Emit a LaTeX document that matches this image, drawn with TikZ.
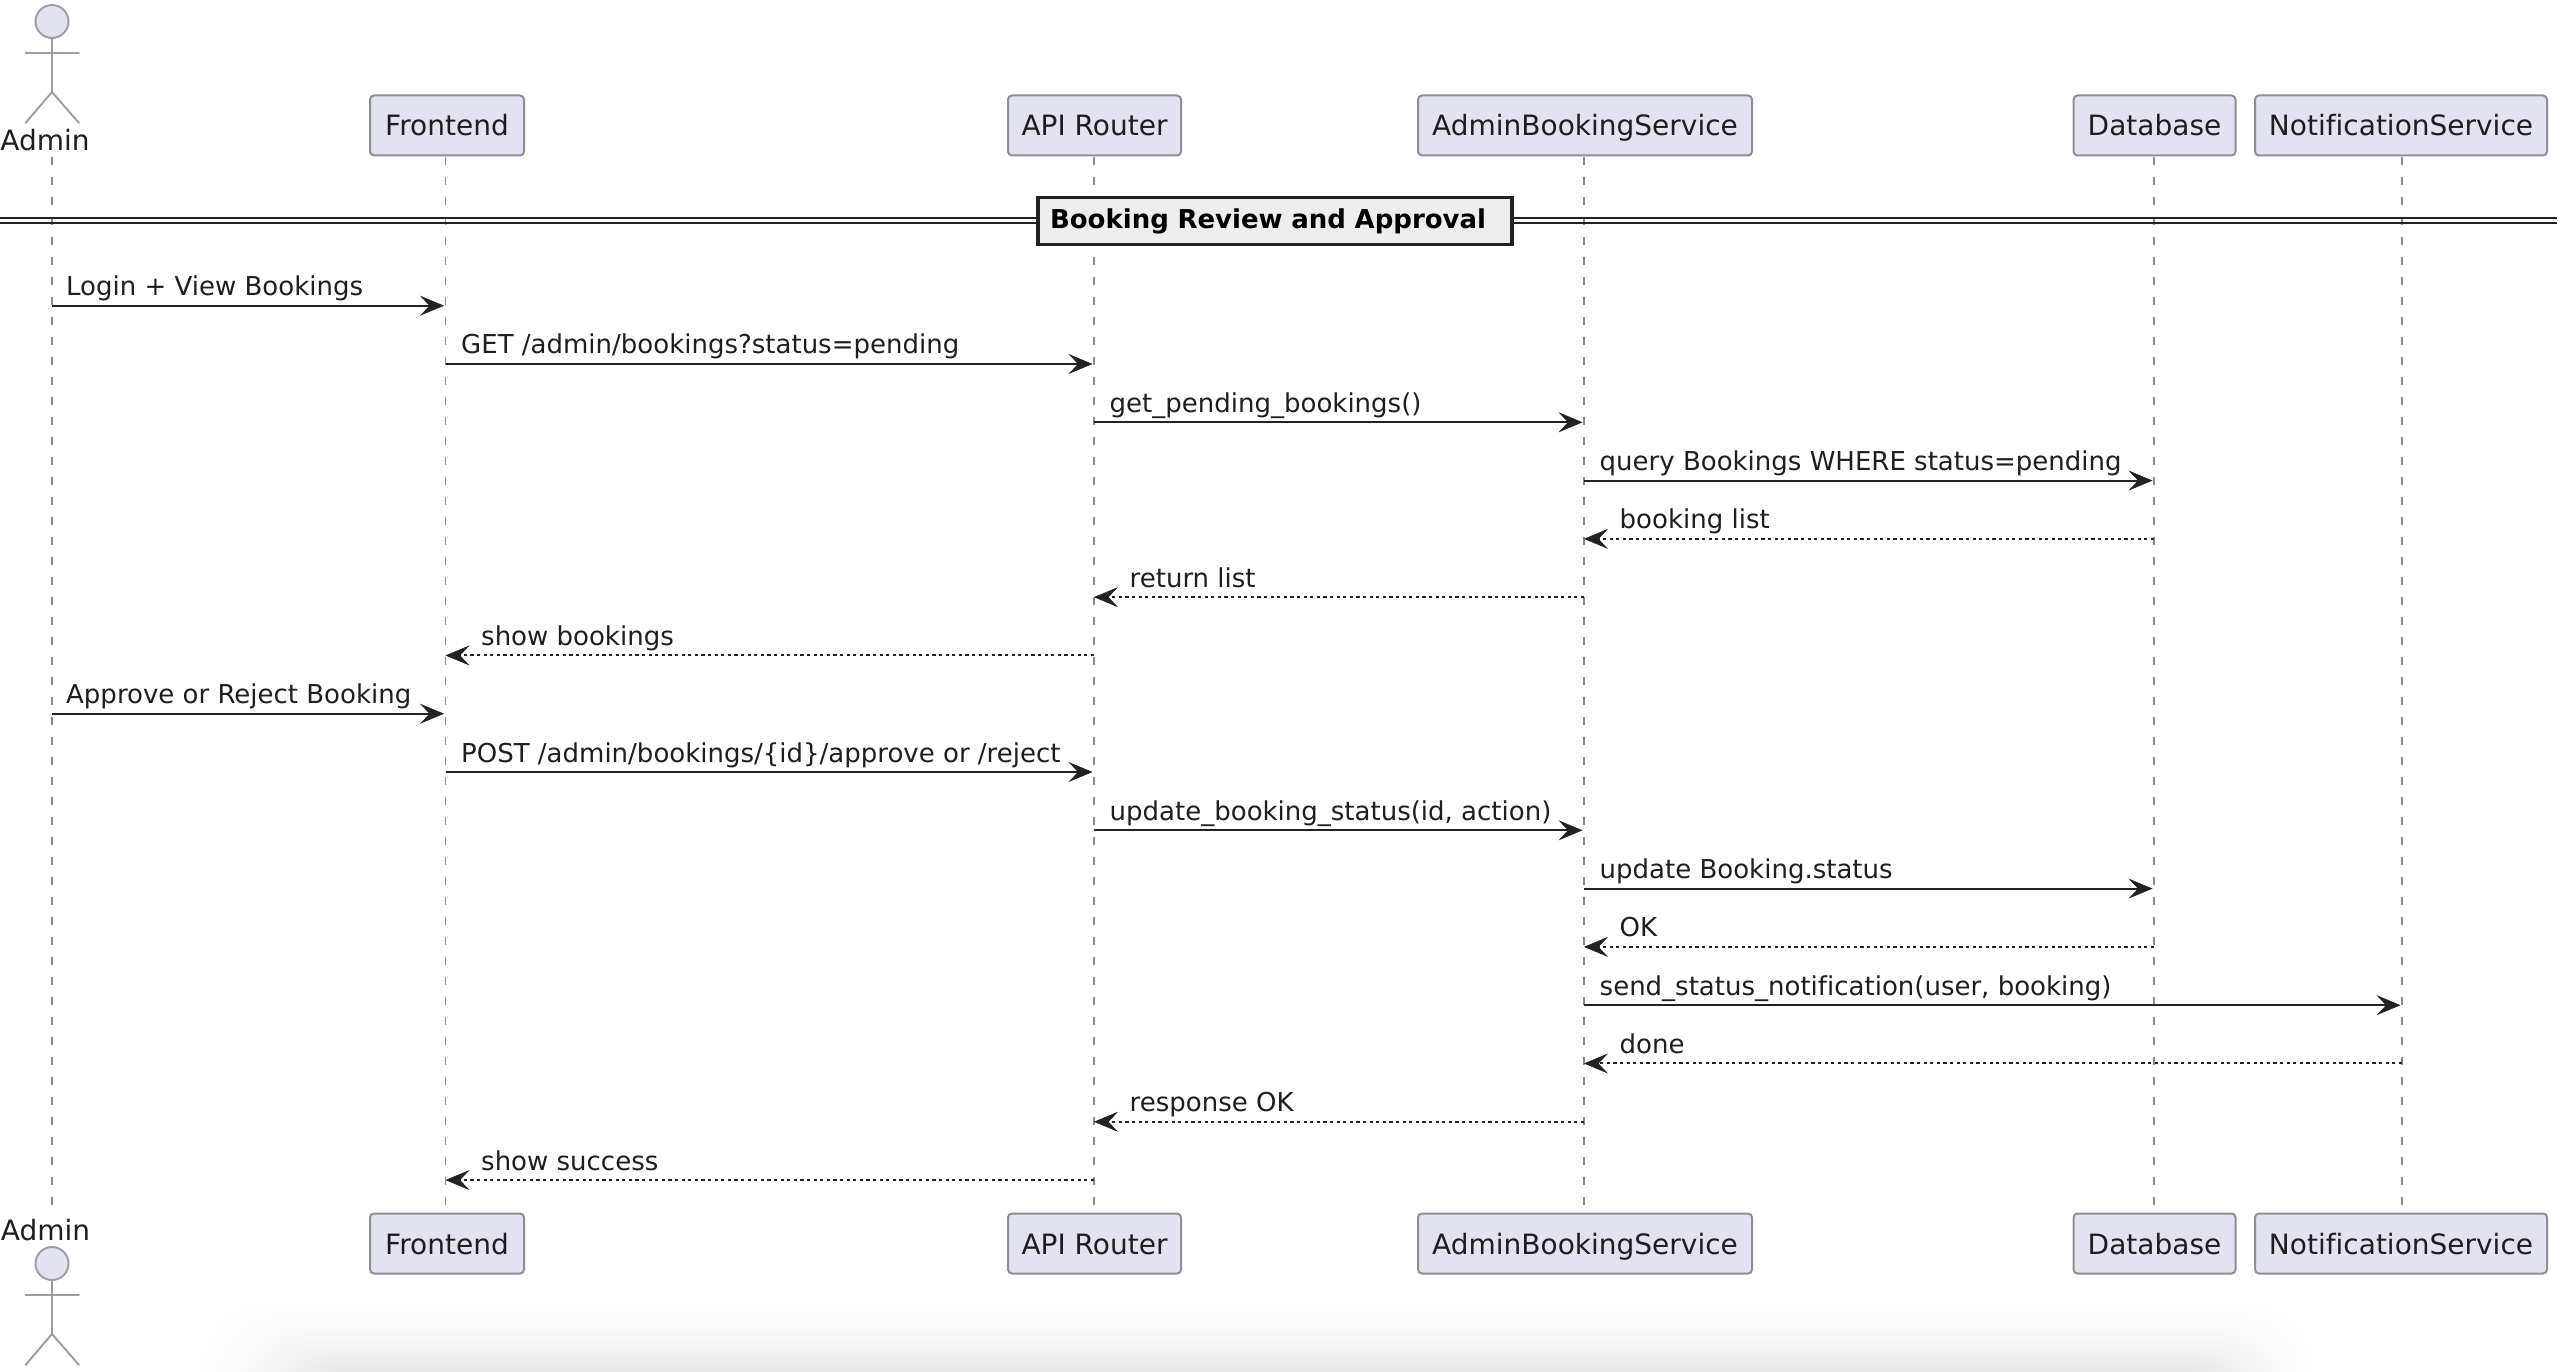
\documentclass[tikz,border=0pt]{standalone}
\usepackage{fontspec}
\setmainfont[Ligatures=NoCommon]{DejaVu Sans}
\usetikzlibrary{arrows.meta}
\definecolor{partfill}{HTML}{E2E2F0}
\definecolor{partline}{HTML}{8E8E96}
\definecolor{lifecol}{HTML}{8A8A8A}
\definecolor{inkcol}{HTML}{222222}
\definecolor{txtcol}{HTML}{1E1E1E}
\tikzset{
  x=1pt,y=-1pt,
  partbox/.style={draw=partline,fill=partfill,line width=2pt,rounded corners=4pt,inner sep=0pt,
    minimum height=60pt,text height=21pt,text depth=0pt,text=txtcol,font=\fontsize{28}{32}\selectfont},
  lifeline/.style={draw=lifecol,line width=1.7pt,dash pattern=on 8pt off 12pt},
  actorline/.style={draw=partline!88!white,line width=1.9pt,line cap=round,line join=round},
  actorlabel/.style={inner sep=0pt,text=txtcol,font=\fontsize{28}{32}\selectfont},
  msgtext/.style={inner sep=0pt,anchor=base west,text=txtcol,font=\fontsize{26}{30}\selectfont},
  msgsolid/.style={draw=inkcol,line width=2.1pt,-{Stealth[length=24pt,width=20pt,inset=9.5pt,fill=inkcol,line width=0.6pt]}},
  msgdash/.style={draw=inkcol,line width=2pt,dash pattern=on 3.3pt off 3.3pt,-{Stealth[length=24pt,width=20pt,inset=9.5pt,fill=inkcol,line width=0.6pt]}},
  divline/.style={draw=inkcol,line width=2.6pt},
  divbox/.style={draw=inkcol,fill=black!7,line width=3.4pt,inner ysep=0pt,inner xsep=12pt,text width=450pt,align=left,
    minimum height=47pt,text=black,font=\fontsize{26}{30}\selectfont\bfseries}
}
\newcommand{\actorfig}[1]{%
  \draw[actorline,fill=partfill] (52,#1+16.5) ellipse [x radius=16.5,y radius=16.5];
  \draw[actorline] (52,#1+33) -- (52,#1+87) (25.5,#1+48) -- (79,#1+48)
    (25.5,#1+118) -- (52,#1+87) -- (79,#1+118);
}
\newcommand{\rowy}[1]{\pgfmathsetmacro{\ry}{305.7+58.29*(#1-1)}}
\newcommand{\msgright}[5][15.5pt]{%
  \rowy{#4}
  \coordinate (ms#4) at (lt#2 |- 0,\ry);
  \coordinate (me#4) at (lt#3 |- 0,\ry);
  \draw[msgsolid,shorten >=1.5pt] (ms#4) -- (me#4);
  \node[msgtext] (mt#4) at ([xshift=#1,yshift=10pt]ms#4) {#5};
}
\newcommand{\msgleft}[4]{%
  \rowy{#3}
  \coordinate (ms#3) at (lt#1 |- 0,\ry);
  \coordinate (me#3) at (lt#2 |- 0,\ry);
  \draw[msgdash,shorten >=0pt] (ms#3) -- (me#3);
  \node[msgtext] (mt#3) at ([xshift=35.5pt,yshift=10pt]me#3) {#4};
}
\begin{document}
\begin{tikzpicture}
\useasboundingbox (0,0) rectangle (2562,1372);
\fill[white] (0,0) rectangle (2562,1372);
\foreach \k in {1,...,27}{
  \pgfmathsetmacro{\uu}{sqrt(\k/27)}
  \pgfmathsetmacro{\pct}{\k/255*100}
  \pgfmathsetmacro{\xa}{180+125*\uu}
  \pgfmathsetmacro{\xb}{2330-100*\uu}
  \pgfmathsetmacro{\ya}{1290+84*\uu}
  \fill[black!\pct,rounded corners=60pt] (\xa,\ya) rectangle (\xb,1500);
}
\foreach \nm/\xx in {AD/52,FE/445.5,AR/1094,AB/1584,DB/2154,NS/2402}{
  \coordinate (lt\nm) at (\xx,157);
  \coordinate (lb\nm) at (\xx,1209);
  \draw[lifeline] (lt\nm) -- (lb\nm);
}
\node[partbox,minimum width=154pt] (tFE) at (447,125.5) {Frontend};
\node[partbox,minimum width=173pt] (tAR) at (1094.5,125.5) {API Router};
\node[partbox,minimum width=334pt] (tAB) at (1585,125.5) {AdminBookingService};
\node[partbox,minimum width=162pt] (tDB) at (2154.5,125.5) {Database};
\node[partbox,minimum width=292pt] (tNS) at (2401,125.5) {NotificationService};
\node[partbox,minimum width=154pt] (bFE) at (447,1243.5) {Frontend};
\node[partbox,minimum width=173pt] (bAR) at (1094.5,1243.5) {API Router};
\node[partbox,minimum width=334pt] (bAB) at (1585,1243.5) {AdminBookingService};
\node[partbox,minimum width=162pt] (bDB) at (2154.5,1243.5) {Database};
\node[partbox,minimum width=292pt] (bNS) at (2401,1243.5) {NotificationService};
\actorfig{5}
\node[actorlabel,anchor=base] (tAD) at (45,151) {Admin};
\node[actorlabel,anchor=base] (bAD) at (45.5,1240) {Admin};
\actorfig{1247}
\coordinate (divAL) at (0,218);
\coordinate (divAR) at (2557,218);
\coordinate (divBL) at (0,223);
\coordinate (divBR) at (2557,223);
\draw[divline] (divAL) -- (divAR);
\draw[divline] (divBL) -- (divBR);
\node[divbox] (divT) at (1275,221) {Booking Review and Approval};
\msgright[14pt]{AD}{FE}{1}{Login + View Bookings}
\msgright{FE}{AR}{2}{GET /admin/bookings?status=pending}
\msgright{AR}{AB}{3}{get\_pending\_bookings()}
\msgright{AB}{DB}{4}{query Bookings WHERE status=pending}
\msgleft{DB}{AB}{5}{booking list}
\msgleft{AB}{AR}{6}{return list}
\msgleft{AR}{FE}{7}{show bookings}
\msgright[14pt]{AD}{FE}{8}{Approve or Reject Booking}
\msgright{FE}{AR}{9}{POST /admin/bookings/\{id\}/approve or /reject}
\msgright{AR}{AB}{10}{update\_booking\_status(id, action)}
\msgright{AB}{DB}{11}{update Booking.status}
\msgleft{DB}{AB}{12}{OK}
\msgright{AB}{NS}{13}{send\_status\_notification(user, booking)}
\msgleft{NS}{AB}{14}{done}
\msgleft{AB}{AR}{15}{response OK}
\msgleft{AR}{FE}{16}{show success}
\end{tikzpicture}
\end{document}
